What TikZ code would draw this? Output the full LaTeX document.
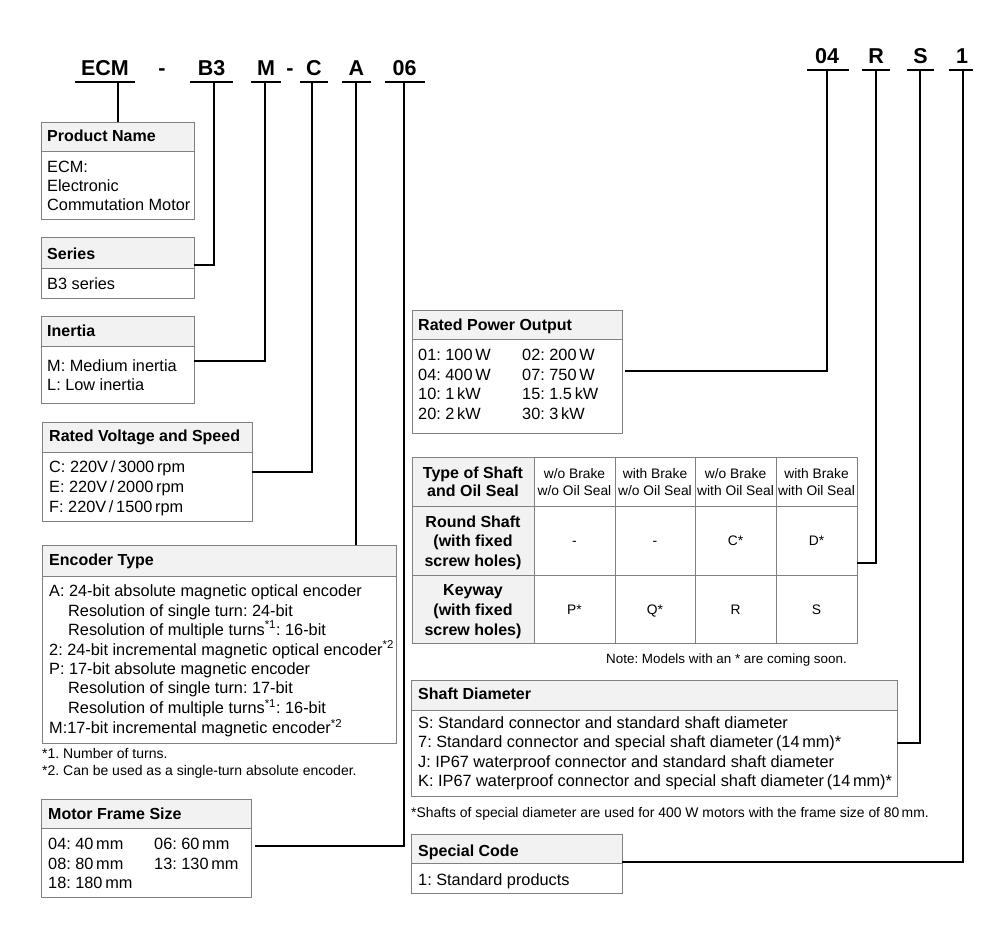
\documentclass[tikz,border=0pt]{standalone}
\usepackage{fontspec}
\setmainfont{Liberation Sans}
\frenchspacing
\definecolor{boxgray}{RGB}{128,128,128}
\definecolor{headfill}{RGB}{242,242,242}
\begin{document}
\begin{tikzpicture}[x=1pt,y=-1pt,
  hbox/.style={draw=boxgray, fill=headfill, line width=1.3pt, inner sep=0, anchor=north west},
  bbox/.style={draw=boxgray, fill=white, line width=1.3pt, inner sep=0, anchor=north west},
  conn/.style={line width=1.6pt, black},
  uline/.style={line width=1.6pt, black},
  code/.style={font=\fontsize{21.5}{25}\selectfont\bfseries, inner sep=0, anchor=base},
  hd/.style={font=\fontsize{16}{19}\selectfont\bfseries, inner sep=0, anchor=base west},
  bd/.style={font=\fontsize{16.3}{19}\selectfont, inner sep=0, anchor=base west},
  sm/.style={font=\fontsize{14}{16}\selectfont, inner sep=0, anchor=base west},
  tb/.style={font=\fontsize{13.8}{17}\selectfont, inner sep=0, anchor=base},
  tbb/.style={font=\fontsize{16}{19}\selectfont\bfseries, inner sep=0, anchor=base}]
\fill[white] (0,0) rectangle (1000,926);
\useasboundingbox (0,0) rectangle (1000,926);

% ---------- model code ----------
\node[code] (kECM) at (105,75) {ECM};
\node[code] (kd1) at (162,75) {-};
\node[code] (kB3) at (211.5,75) {B3};
\node[code] (kM) at (266,75) {M};
\node[code] (kd2) at (290,75) {-};
\node[code] (kC) at (314,75) {C};
\node[code] (kA) at (356.5,75) {A};
\node[code] (k06) at (404.5,75) {06};
\node[code] (k04) at (827,63.5) {04};
\node[code] (kR) at (876,63.5) {R};
\node[code] (kS) at (920.5,63.5) {S};
\node[code] (k1) at (962,63.5) {1};

\draw[uline] (75,82) -- (135,82);
\draw[uline] (190,82) -- (233,82);
\draw[uline] (251,82) -- (281,82);
\draw[uline] (300,82) -- (328,82);
\draw[uline] (342,82) -- (371,82);
\draw[uline] (385,82) -- (425,82);
\draw[uline] (807,70) -- (849,70);
\draw[uline] (862,70) -- (890,70);
\draw[uline] (907,70) -- (934,70);
\draw[uline] (949,70) -- (973,70);

\coordinate (uECM) at (118,82);
\coordinate (uB3) at (214,82);
\coordinate (uM) at (265,82);
\coordinate (uC) at (312,82);
\coordinate (uA) at (356,82);
\coordinate (u06) at (404,82);
\coordinate (u04) at (827,70);
\coordinate (uR) at (876,70);
\coordinate (uS) at (920,70);
\coordinate (u1) at (963,70);

% ---------- Product Name ----------
\node[hbox, minimum width=153, minimum height=29] (pnH) at (41,122) {};
\node[bbox, minimum width=153, minimum height=68] (pnB) at (41,151) {};
\node[hd] (pnT) at (47,141.7) {Product Name};
\node[bd] (pn1) at (47,172.7) {ECM:};
\node[bd] (pn2) at (47,191.7) {Electronic};
\node[bd] (pn3) at (47,210.7) {Commutation Motor};

% ---------- Series ----------
\node[hbox, minimum width=153, minimum height=31] (seH) at (41,237) {};
\node[bbox, minimum width=153, minimum height=30] (seB) at (41,268) {};
\node[hd] (seT) at (47,259) {Series};
\node[bd] (se1) at (47,289) {B3 series};

% ---------- Inertia ----------
\node[hbox, minimum width=153, minimum height=30] (inH) at (41,316) {};
\node[bbox, minimum width=153, minimum height=57] (inB) at (41,346) {};
\node[hd] (inT) at (47,336.7) {Inertia};
\node[bd] (in1) at (47,371) {M: Medium inertia};
\node[bd] (in2) at (47,390.7) {L: Low inertia};

% ---------- Rated Voltage ----------
\node[hbox, minimum width=210, minimum height=30] (rvH) at (42,422) {};
\node[bbox, minimum width=210, minimum height=69] (rvB) at (42,452) {};
\node[hd] (rvT) at (49,441.7) {Rated Voltage and Speed};
\node[bd] (rv1) at (49,472.3) {C: 220V\,/\,3000\,rpm};
\node[bd] (rv2) at (49,492.3) {E: 220V\,/\,2000\,rpm};
\node[bd] (rv3) at (49,512.3) {F: 220V\,/\,1500\,rpm};

% ---------- Encoder Type ----------
\node[hbox, minimum width=354, minimum height=31] (enH) at (42,545) {};
\node[bbox, minimum width=354, minimum height=167] (enB) at (42,576) {};
\node[hd] (enT) at (49,565.7) {Encoder Type};
\node[bd] (en1) at (49,596) {A: 24-bit absolute magnetic optical encoder};
\node[bd] (en2) at (68,616) {Resolution of single turn: 24-bit};
\node[bd] (en3) at (68,635) {Resolution of multiple turns\textsuperscript{*1}: 16-bit};
\node[bd] (en4) at (49,655) {2: 24-bit incremental magnetic optical encoder\textsuperscript{*2}};
\node[bd] (en5) at (49,674.7) {P: 17-bit absolute magnetic encoder};
\node[bd] (en6) at (68,693.3) {Resolution of single turn: 17-bit};
\node[bd] (en7) at (68,713.3) {Resolution of multiple turns\textsuperscript{*1}: 16-bit};
\node[bd] (en8) at (49,733.3) {M:17-bit incremental magnetic encoder\textsuperscript{*2}};
\node[sm] (enN1) at (42,758) {*1. Number of turns.};
\node[sm] (enN2) at (42,775) {*2. Can be used as a single-turn absolute encoder.};

% ---------- Motor Frame Size ----------
\node[hbox, minimum width=210, minimum height=29] (mfH) at (41,799) {};
\node[bbox, minimum width=210, minimum height=69] (mfB) at (41,828) {};
\node[hd] (mfT) at (48,819.3) {Motor Frame Size};
\node[bd] (mf1) at (48,849) {04: 40\,mm};
\node[bd] (mf2) at (154,849) {06: 60\,mm};
\node[bd] (mf3) at (48,869) {08: 80\,mm};
\node[bd] (mf4) at (154,869) {13: 130\,mm};
\node[bd] (mf5) at (48,888.3) {18: 180\,mm};

% ---------- Rated Power Output ----------
\node[hbox, minimum width=210, minimum height=29] (rpH) at (412,310) {};
\node[bbox, minimum width=210, minimum height=94] (rpB) at (412,339) {};
\node[hd] (rpT) at (418,330.7) {Rated Power Output};
\node[bd] (rp1) at (418,360) {01: 100\,W};
\node[bd] (rp2) at (522,360) {02: 200\,W};
\node[bd] (rp3) at (418,380) {04: 400\,W};
\node[bd] (rp4) at (522,380) {07: 750\,W};
\node[bd] (rp5) at (418,399.3) {10: 1\,kW};
\node[bd] (rp6) at (522,399.3) {15: 1.5\,kW};
\node[bd] (rp7) at (418,419) {20: 2\,kW};
\node[bd] (rp8) at (522,419) {30: 3\,kW};

% ---------- Shaft / Oil seal table ----------
\foreach \r/\ya/\yb in {1/457/506,2/506/575,3/575/643}{
  \node[hbox, minimum width=122, minimum height=\yb-\ya] (t\r c1) at (412,\ya) {};
  \foreach \c/\xa/\xb in {2/534/615,3/615/695,4/695/776,5/776/857}
    \node[bbox, minimum width=\xb-\xa, minimum height=\yb-\ya] (t\r c\c) at (\xa,\ya) {};
}
\node[tbb] (th1a) at (473,478) {Type of Shaft};
\node[tbb] (th1b) at (473,496.7) {and Oil Seal};
\node[tb] (th2a) at (574.5,478) {w/o Brake};
\node[tb] (th2b) at (574.5,495) {w/o Oil Seal};
\node[tb] (th3a) at (655,478) {with Brake};
\node[tb] (th3b) at (655,495) {w/o Oil Seal};
\node[tb] (th4a) at (735.5,478) {w/o Brake};
\node[tb] (th4b) at (735.5,495) {with Oil Seal};
\node[tb] (th5a) at (816.5,478) {with Brake};
\node[tb] (th5b) at (816.5,495) {with Oil Seal};
\node[tbb] (tr2a) at (473,527) {Round Shaft};
\node[tbb] (tr2b) at (473,546.7) {(with fixed};
\node[tbb] (tr2c) at (473,566.7) {screw holes)};
\node[tb] (tv22) at (574.5,545) {-};
\node[tb] (tv23) at (655,545) {-};
\node[tb] (tv24) at (735.5,545) {C*};
\node[tb] (tv25) at (816.5,545) {D*};
\node[tbb] (tr3a) at (473,595.7) {Keyway};
\node[tbb] (tr3b) at (473,615.7) {(with fixed};
\node[tbb] (tr3c) at (473,635) {screw holes)};
\node[tb] (tv32) at (574.5,614) {P*};
\node[tb] (tv33) at (655,614) {Q*};
\node[tb] (tv34) at (735.5,614) {R};
\node[tb] (tv35) at (816.5,614) {S};
\node[font=\fontsize{13.4}{16}\selectfont, inner sep=0, anchor=base east] (tnote) at (847,663.3) {Note: Models with an * are coming soon.};

% ---------- Shaft Diameter ----------
\node[hbox, minimum width=486, minimum height=30] (sdH) at (411,680) {};
\node[bbox, minimum width=486, minimum height=86] (sdB) at (411,710) {};
\node[hd] (sdT) at (418,699) {Shaft Diameter};
\node[bd] (sd1) at (418,728) {S: Standard connector and standard shaft diameter};
\node[bd] (sd2) at (418,747) {7: Standard connector and special shaft diameter\,(14\,mm)*};
\node[bd] (sd3) at (418,767) {J: IP67 waterproof connector and standard shaft diameter};
\node[bd] (sd4) at (418,786) {K: IP67 waterproof connector and special shaft diameter\,(14\,mm)*};
\node[font=\fontsize{13.9}{16}\selectfont, inner sep=0, anchor=base west] (sdN) at (411,817) {*Shafts of special diameter are used for 400 W motors with the frame size of 80\,mm.};

% ---------- Special Code ----------
\node[hbox, minimum width=211, minimum height=29] (scH) at (411,834) {};
\node[bbox, minimum width=211, minimum height=30] (scB) at (411,863) {};
\node[hd] (scT) at (418,856) {Special Code};
\node[bd] (sc1) at (418,885) {1: Standard products};

% ---------- connector end points ----------
\coordinate (eB3) at (194,265);
\coordinate (eM) at (194,361);
\coordinate (eC) at (252,472);
\coordinate (e06) at (255,846);
\coordinate (e04) at (625,371);
\coordinate (eR) at (857,563);
\coordinate (eS) at (897,743);
\coordinate (e1) at (622,862);

\draw[conn] (uECM) -- (uECM |- pnH.north);
\draw[conn] (uB3) |- (eB3);
\draw[conn] (uM) |- (eM);
\draw[conn] (uC) |- (eC);
\draw[conn] (uA) -- (uA |- enH.north);
\draw[conn] (u06) |- (e06);
\draw[conn] (u04) |- (e04);
\draw[conn] (uR) |- (eR);
\draw[conn] (uS) |- (eS);
\draw[conn] (u1) |- (e1);
\end{tikzpicture}
\end{document}
